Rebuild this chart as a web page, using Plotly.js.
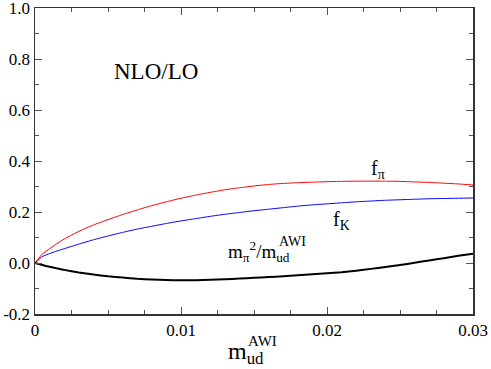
<!DOCTYPE html>
<html>
<head>
<meta charset="utf-8">
<script src="https://cdn.plot.ly/plotly-3.0.1.min.js"></script>
<style>
  html, body { margin: 0; padding: 0; background: #fff; }
  #grafico { width: 491px; height: 369px; }
</style>
</head>
<body>
<div id="grafico"></div>
<script>
// valores de m_ud^AWI
var masas = [0, 0.0005, 0.001, 0.0015, 0.002, 0.003, 0.004, 0.005, 0.006, 0.007,
  0.008, 0.009, 0.010, 0.011, 0.012, 0.013, 0.014, 0.015, 0.016, 0.017, 0.018,
  0.019, 0.020, 0.021, 0.022, 0.023, 0.024, 0.025, 0.026, 0.027, 0.028, 0.029, 0.030];

// cocientes NLO/LO de cada curva
var fPi = [0, 0.035, 0.056, 0.076, 0.094, 0.124, 0.149, 0.170, 0.190, 0.208,
  0.225, 0.240, 0.254, 0.266, 0.277, 0.287, 0.295, 0.302, 0.308, 0.312, 0.315,
  0.317, 0.319, 0.320, 0.321, 0.321, 0.321, 0.320, 0.318, 0.316, 0.313, 0.310, 0.306];
var fK = [0, 0.025, 0.037, 0.047, 0.056, 0.074, 0.091, 0.106, 0.120, 0.133,
  0.144, 0.155, 0.165, 0.174, 0.183, 0.191, 0.198, 0.205, 0.211, 0.217, 0.223,
  0.228, 0.232, 0.236, 0.240, 0.243, 0.246, 0.248, 0.250, 0.252, 0.253, 0.254, 0.255];
var mPiCociente = [0, -0.008, -0.015, -0.021, -0.027, -0.037, -0.045, -0.052, -0.057, -0.062,
  -0.065, -0.067, -0.068, -0.068, -0.066, -0.064, -0.061, -0.058, -0.055, -0.052, -0.048,
  -0.044, -0.040, -0.036, -0.030, -0.023, -0.016, -0.008, 0.001, 0.010, 0.019, 0.028, 0.036];

// etiquetas de los ejes
var ticksX = [0, 0.01, 0.02, 0.03];
var textoX = ["0", "0.01", "0.02", "0.03"];
var ticksY = [-0.2, 0, 0.2, 0.4, 0.6, 0.8, 1.0];
var textoY = ["-0.2", "0.0", "0.2", "0.4", "0.6", "0.8", "1.0"];

var fuente = "Liberation Serif, serif";

var trazas = [
  {
    x: masas, y: fPi, mode: "lines", type: "scatter",
    line: { color: "#ff0000", width: 1, shape: "spline", smoothing: 0.5 }
  },
  {
    x: masas, y: fK, mode: "lines", type: "scatter",
    line: { color: "#0000ff", width: 1, shape: "spline", smoothing: 0.5 }
  },
  {
    x: masas, y: mPiCociente, mode: "lines", type: "scatter",
    line: { color: "#000000", width: 2, shape: "spline", smoothing: 0.5 }
  }
];

var ejeComun = {
  showgrid: false,
  zeroline: false,
  showline: true,
  linecolor: "#333",
  linewidth: 1.5,
  mirror: "allticks",
  ticks: "inside",
  ticklen: 7,
  tickwidth: 1,
  tickcolor: "#555",
  ticklabeloverflow: "allow",
  tickfont: { family: fuente, size: 17, color: "#000" }
};

var layout = {
  width: 491,
  height: 369,
  margin: { l: 35, r: 18, t: 8, b: 55 },
  paper_bgcolor: "#fff",
  plot_bgcolor: "#fff",
  showlegend: false,
  font: { family: fuente, color: "#000" },
  xaxis: Object.assign({}, ejeComun, {
    range: [0, 0.03],
    tickmode: "array",
    tickvals: ticksX,
    ticktext: textoX,
    minor: { dtick: 0.0025, ticks: "inside", ticklen: 4, tickcolor: "#555" }
  }),
  yaxis: Object.assign({}, ejeComun, {
    range: [-0.2, 1.0],
    tickmode: "array",
    tickvals: ticksY,
    ticktext: textoY,
    minor: { dtick: 0.1, ticks: "inside", ticklen: 4, tickcolor: "#555" }
  }),
  annotations: [
    { text: "NLO/LO", x: 0.0083, y: 0.75, xref: "x", yref: "y",
      showarrow: false, font: { family: fuente, size: 23 } },
    { text: "f<sub>π</sub>", x: 0.0229, y: 0.366, xref: "x", yref: "y",
      xanchor: "left", showarrow: false, font: { family: fuente, size: 20 } },
    { text: "f<sub>K</sub>", x: 0.0203, y: 0.166, xref: "x", yref: "y",
      xanchor: "left", showarrow: false, font: { family: fuente, size: 20 } },
    { text: "m<sub>π</sub><sup>2</sup>/m<sub>ud</sub>", x: 0.01305, y: 0.044,
      xref: "x", yref: "y", xanchor: "left", showarrow: false, font: { family: fuente, size: 19 } },
    { text: "AWI", x: 0.01655, y: 0.085, xref: "x", yref: "y",
      xanchor: "left", showarrow: false, font: { family: fuente, size: 14 } },
    // titulo del eje x
    { text: "m<sub>ud</sub>", x: 0.435, y: -0.183, xref: "paper", yref: "paper",
      xanchor: "left", showarrow: false, font: { family: fuente, size: 24 } },
    { text: "AWI", x: 0.481, y: -0.12, xref: "paper", yref: "paper",
      xanchor: "left", showarrow: false, font: { family: fuente, size: 15 } }
  ]
};

Plotly.newPlot("grafico", trazas, layout, { staticPlot: true, displayModeBar: false });
</script>
</body>
</html>
